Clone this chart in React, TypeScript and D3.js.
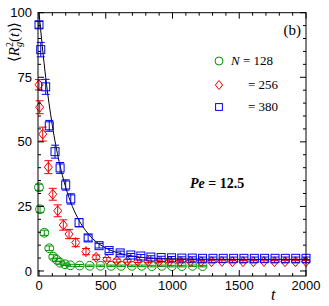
import React from 'react';
import * as d3 from 'd3';

// N = 128 (green circles)
const tN128 = [0, 8, 40, 77, 107, 133, 158, 195, 235, 305, 380, 460, 540, 615, 695, 770, 845, 920, 995, 1070, 1150, 1225];
const vN128 = [32.4, 23.9, 14.8, 8.8, 5.5, 4.3, 3.2, 2.6, 2.2, 2.1, 2.0, 2.0, 2.0, 2.0, 2.0, 2.0, 1.9, 2.0, 1.9, 1.9, 2.0, 1.9];
const eN128 = [1.2, 1.2, 1.0, 0.9, 0.8, 0.7, 0.6, 0.5, 0.4, 0.4, 0.3, 0.3, 0.3, 0.3, 0.3, 0.3, 0.3, 0.3, 0.3, 0.3, 0.3, 0.3];

// N = 256 (red diamonds)
const tN256 = [0, 5, 28, 70, 103, 140, 182, 225, 275, 352, 428, 508, 583, 662, 740, 819, 898, 977, 1055, 1134, 1213, 1292, 1370, 1449, 1528, 1606, 1685, 1764, 1843, 1921, 2000];
const vN256 = [72.1, 63.4, 53.0, 40.2, 29.7, 23.3, 17.8, 14.3, 11.0, 7.5, 5.3, 4.5, 4.0, 3.9, 3.8, 3.7, 3.7, 3.7, 3.6, 3.7, 3.6, 3.6, 3.7, 3.6, 3.6, 3.6, 3.7, 3.6, 3.6, 3.6, 3.6];
const eN256 = [2.0, 2.5, 2.7, 2.5, 2.3, 2.3, 2.0, 1.8, 1.6, 1.2, 0.9, 0.7, 0.6, 0.5, 0.5, 0.5, 0.5, 0.5, 0.5, 0.5, 0.5, 0.5, 0.5, 0.5, 0.5, 0.5, 0.5, 0.5, 0.5, 0.5, 0.5];

// N = 380 (blue squares)
const tN380 = [0, 13, 50, 77, 120, 158, 200, 238, 300, 368, 450, 525, 608, 688, 763, 838, 915, 993, 1070, 1148, 1225, 1303, 1380, 1458, 1535, 1613, 1690, 1768, 1845, 1923, 2000];
const vN380 = [95.3, 85.7, 71.3, 56.2, 46.2, 39.9, 33.3, 27.9, 18.7, 12.8, 9.8, 7.9, 7.0, 6.2, 5.8, 5.4, 5.2, 5.1, 5.0, 5.0, 4.9, 4.9, 4.9, 4.9, 4.9, 4.9, 4.9, 4.9, 4.9, 4.9, 4.9];
const eN380 = [1.3, 2.8, 2.9, 2.1, 2.5, 2.1, 2.0, 2.0, 1.6, 1.2, 0.9, 0.8, 0.7, 0.6, 0.6, 0.5, 0.5, 0.5, 0.5, 0.5, 0.5, 0.5, 0.5, 0.5, 0.5, 0.5, 0.5, 0.5, 0.5, 0.5, 0.5];

// black fit line
const tFit = [0, 50, 100, 150, 200, 250, 300, 350, 400, 500, 600, 700, 800, 1000, 1500, 2000];
const vFit = [100, 75, 56.3, 42.5, 32.4, 25, 19.6, 15.6, 12.6, 8.9, 6.9, 5.8, 5.1, 4.7, 4.5, 4.5];

const xTicks = [0, 500, 1000, 1500, 2000];
const yTicks = [0, 25, 50, 75, 100];

const W = 329, H = 306;
const left = 38, right = 306, top = 12.7, bottom = 276;

const GREEN = '#009200', RED = '#f00000', BLUE = '#0000f0';

export default function App() {
  const x = d3.scaleLinear([-7.5, 2000], [left, right]);
  const y = d3.scaleLinear([-1.94, 100], [bottom, top]);

  const fitLine = d3.line<number>()
    .x((_, i) => x(tFit[i]))
    .y(d => y(d))
    .curve(d3.curveMonotoneX)(vFit);

  const xMinor = d3.range(0, 2001, 100);
  const yMinor = d3.range(0, 101, 5);

  const series = [
    { t: tN128, v: vN128, e: eN128, color: GREEN, shape: 'circle' },
    { t: tN256, v: vN256, e: eN256, color: RED, shape: 'diamond' },
    { t: tN380, v: vN380, e: eN380, color: BLUE, shape: 'square' },
  ];

  const marker = (shape: string, cx: number, cy: number, color: string, key: any, s = 1) => {
    if (shape === 'circle')
      return <circle key={key} cx={cx} cy={cy} r={4.4 * s} fill="none" stroke={color} strokeWidth={1} />;
    if (shape === 'diamond')
      return <path key={key} d={`M${cx},${cy - 5 * s}L${cx + 4 * s},${cy}L${cx},${cy + 5 * s}L${cx - 4 * s},${cy}Z`} fill="none" stroke={color} strokeWidth={1} />;
    return <rect key={key} x={cx - 4 * s} y={cy - 4 * s} width={8 * s} height={8 * s} fill="none" stroke={color} strokeWidth={1} />;
  };

  return (
    <svg width={W} height={H} style={{ position: 'absolute', left: 0, top: 0, background: '#fff' }}>
      <defs>
        <clipPath id="plot">
          <rect x={left} y={top} width={right - left} height={bottom - top} />
        </clipPath>
      </defs>

      {/* data */}
      <g clipPath="url(#plot)">
        <path d={fitLine || ''} fill="none" stroke="#000" strokeWidth={1} />
      </g>
      <g>
        {series.map((s, si) => (
          <g key={si}>
            {s.t.map((t, i) => {
              const cx = x(t), y0 = y(s.v[i] - s.e[i]), y1 = y(s.v[i] + s.e[i]);
              return (
                <g key={i} stroke={s.color} strokeWidth={1}>
                  <line x1={cx} x2={cx} y1={y0} y2={y1} />
                  <line x1={cx - 4} x2={cx + 4} y1={y0} y2={y0} />
                  <line x1={cx - 4} x2={cx + 4} y1={y1} y2={y1} />
                </g>
              );
            })}
            {s.t.map((t, i) => marker(s.shape, x(t), y(s.v[i]), s.color, 'm' + i))}
          </g>
        ))}
      </g>

      {/* frame and ticks */}
      <rect x={left} y={top} width={right - left} height={bottom - top} fill="none" stroke="#000" strokeWidth={1} />
      <g stroke="#000" strokeWidth={1}>
        {xMinor.map(t => {
          const len = t % 500 === 0 ? 6 : 3;
          return (
            <g key={'xt' + t}>
              <line x1={x(t)} x2={x(t)} y1={bottom} y2={bottom - len} />
              <line x1={x(t)} x2={x(t)} y1={top} y2={top + len} />
            </g>
          );
        })}
        {yMinor.map(v => {
          const len = v % 25 === 0 ? 6 : 3;
          return (
            <g key={'yt' + v}>
              <line x1={left} x2={left + len} y1={y(v)} y2={y(v)} />
              <line x1={right} x2={right - len} y1={y(v)} y2={y(v)} />
            </g>
          );
        })}
      </g>

      <g fontFamily="'Liberation Sans', Arial, sans-serif" fontSize={13} fill="#000">
        {xTicks.map(t => (
          <text key={'xl' + t} x={x(t)} y={290} textAnchor="middle">{t}</text>
        ))}
        {yTicks.map(v => (
          <text key={'yl' + v} x={32} y={y(v) + 4.6} textAnchor="end">{v}</text>
        ))}
      </g>

      {/* axis labels */}
      <text x={271} y={300} fontFamily="'Liberation Serif', serif" fontStyle="italic" fontSize={16}>t</text>
      <text transform="translate(19,42) rotate(-90)" textAnchor="middle" fontFamily="'Liberation Serif', serif" fontSize={15}>
        ⟨<tspan fontStyle="italic">R</tspan><tspan fontSize={10} dy={-6}>2</tspan><tspan fontSize={10} fontStyle="italic" dx={-5} dy={9}>g</tspan><tspan dy={-3}>(</tspan><tspan fontStyle="italic">t</tspan>)⟩
      </text>

      <text x={301} y={35} textAnchor="end" fontFamily="'Liberation Serif', serif" fontSize={15}>(b)</text>

      {/* legend */}
      {marker('circle', 219, 61, GREEN, 'lg1', 0.9)}
      {marker('diamond', 219, 85, RED, 'lg2', 0.9)}
      {marker('square', 219, 107, BLUE, 'lg3', 0.85)}
      <g fontFamily="'Liberation Serif', serif" fontSize={13} fill="#000">
        <text x={231} y={65}><tspan fontStyle="italic">N</tspan> = 128</text>
        <text x={248} y={89}>= 256</text>
        <text x={248} y={111}>= 380</text>
        <text x={190} y={188} fontWeight="bold" fontSize={14}><tspan fontStyle="italic">Pe</tspan> = 12.5</text>
      </g>
    </svg>
  );
}
